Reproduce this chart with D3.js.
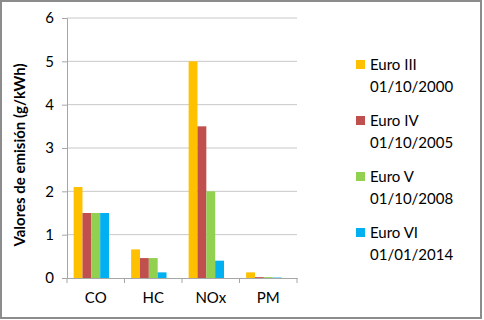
<!DOCTYPE html>
<html lang="es">
<head>
<meta charset="UTF-8">
<title>Valores de emisión</title>
<script src="https://d3js.org/d3.v7.min.js"></script>
<style>
  body { margin: 0; background: #fff; }
  svg text { font-family: Lato, "Open Sans", sans-serif; fill: #000; }
</style>
</head>
<body>
<svg id="chart" width="484" height="320"></svg>
<script>
// data
const categories = ['CO', 'HC', 'NOx', 'PM'];
const seriesNames = ['Euro III', 'Euro IV', 'Euro V', 'Euro VI'];
const seriesDates = ['01/10/2000', '01/10/2005', '01/10/2008', '01/01/2014'];
const seriesColors = ['#FFC000', '#C0504D', '#92D050', '#00B0F0'];
const euroIII = [2.1, 0.66, 5.0, 0.13];
const euroIV = [1.5, 0.46, 3.5, 0.02];
const euroV = [1.5, 0.46, 2.0, 0.02];
const euroVI = [1.5, 0.13, 0.4, 0.01];
const yTicks = [0, 1, 2, 3, 4, 5, 6];

const seriesValues = [euroIII, euroIV, euroV, euroVI];

const svg = d3.select('#chart');
const margin = { top: 18, left: 67, right: 187, bottom: 42 };
const width = 484, height = 320;

// outer frame
svg.append('rect')
    .attr('x', 1).attr('y', 1)
    .attr('width', 480).attr('height', 317)
    .attr('fill', 'none')
    .attr('stroke', '#8c8c8c')
    .attr('stroke-width', 2);

const x = d3.scaleBand()
    .domain(categories)
    .range([margin.left, width - margin.right]);

const y = d3.scaleLinear()
    .domain([0, 6])
    .range([height - margin.bottom, margin.top]);

// Excel-style slots: 5 bar slots + 150% gap, only 4 used
const bw = x.bandwidth() / 6.5;
const xs = d3.scaleBand()
    .domain(seriesNames)
    .range([bw * 0.75, bw * 0.75 + bw * 4]);

// gridlines
svg.append('g')
    .selectAll('line')
    .data(yTicks.slice(1))
    .join('line')
    .attr('x1', margin.left).attr('x2', width - margin.right)
    .attr('y1', d => y(d)).attr('y2', d => y(d))
    .attr('stroke', '#c8c8c8');

// bars
const groups = svg.append('g')
    .selectAll('g')
    .data(categories)
    .join('g')
    .attr('transform', d => `translate(${x(d)},0)`);

groups.selectAll('rect')
    .data((c, ci) => seriesNames.map((s, si) => ({ s, si, v: seriesValues[si][ci] })))
    .join('rect')
    .attr('x', d => xs(d.s))
    .attr('width', xs.bandwidth())
    .attr('y', d => y(d.v))
    .attr('height', d => y(0) - y(d.v))
    .attr('fill', d => seriesColors[d.si]);

// x axis
const xAxis = svg.append('g')
    .attr('transform', `translate(0,${y(0)})`)
    .call(d3.axisBottom(x).tickSize(0).tickPadding(14));
xAxis.select('.domain').attr('stroke', '#a6a6a6');
xAxis.selectAll('text').style('font-size', '15px');
// category separators
svg.append('g')
    .selectAll('line')
    .data(categories.concat(['end']))
    .join('line')
    .attr('x1', (d, i) => i < categories.length ? x(d) : x.range()[1])
    .attr('x2', (d, i) => i < categories.length ? x(d) : x.range()[1])
    .attr('y1', y(0)).attr('y2', y(0) + 5)
    .attr('stroke', '#a6a6a6');

// y axis
const yAxis = svg.append('g')
    .attr('transform', `translate(${margin.left},0)`)
    .call(d3.axisLeft(y).tickValues(yTicks).tickFormat(d3.format('d')).tickSize(5).tickPadding(8));
yAxis.selectAll('line, .domain').attr('stroke', '#a6a6a6');
yAxis.selectAll('text').style('font-size', '15px');

svg.append('text')
    .attr('transform', `translate(25,${(y(0) + y(6)) / 2 + 7}) rotate(-90)`)
    .attr('text-anchor', 'middle')
    .style('font-size', '15px')
    .style('font-weight', 'bold')
    .text('Valores de emisión (g/kWh)');

// legend
const legend = svg.append('g')
    .selectAll('g')
    .data(seriesNames)
    .join('g')
    .attr('transform', (d, i) => `translate(356,${65 + i * 56})`);

legend.append('rect')
    .attr('x', 0).attr('y', -5)
    .attr('width', 9).attr('height', 9)
    .attr('fill', (d, i) => seriesColors[i]);

legend.append('text')
    .attr('x', 14).attr('y', 5)
    .style('font-size', '15px')
    .text(d => d);

legend.append('text')
    .attr('x', 14).attr('y', 27)
    .style('font-size', '15px')
    .text((d, i) => seriesDates[i]);
</script>
</body>
</html>
